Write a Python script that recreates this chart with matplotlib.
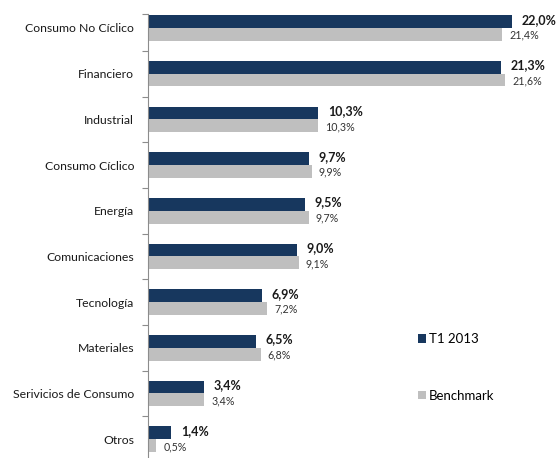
import matplotlib
matplotlib.use("Agg")
import matplotlib.pyplot as plt
import numpy as np

categories = ["Consumo No Cíclico", "Financiero", "Industrial", "Consumo Cíclico",
              "Energía", "Comunicaciones", "Tecnología", "Materiales",
              "Serivicios de Consumo", "Otros"]
t1_2013 = [22.0, 21.3, 10.3, 9.7, 9.5, 9.0, 6.9, 6.5, 3.4, 1.4]
benchmark = [21.4, 21.6, 10.3, 9.9, 9.7, 9.1, 7.2, 6.8, 3.4, 0.5]

NAVY = "#17375E"
GRAY = "#BFBFBF"

plt.rcParams['font.family'] = ['Lato', 'DejaVu Sans']

W, H = 560, 458
fig = plt.figure(figsize=(W / 100, H / 100), dpi=100)

# axes placed in pixel terms: left spine at x=148, top at y=14
y_top, y_bot = -0.306, 9.5
ax_top_px, ax_bot_px = 14, 462
ax = fig.add_axes([148 / W, (H - ax_bot_px) / H, 400 / W, (ax_bot_px - ax_top_px) / H])

y = np.arange(len(categories))
h = 0.28
ax.barh(y - h / 2, t1_2013, height=h, color=NAVY, label="T1 2013")
ax.barh(y + h / 2, benchmark, height=h, color=GRAY, label="Benchmark")

for yi, a, b in zip(y, t1_2013, benchmark):
    ax.annotate(f"{a:.1f}%".replace(".", ","), (a, yi - h / 2 - 0.04),
                xytext=(7, 0), textcoords="offset points", va="center",
                ha="left", fontsize=9, fontweight="bold", color="#1a1a1a")
    ax.annotate(f"{b:.1f}%".replace(".", ","), (b, yi + h / 2 + 0.02),
                xytext=(5, 0), textcoords="offset points", va="center",
                ha="left", fontsize=7.7, color="#333333")

ax.set_xlim(0, 400 / 16.55)
ax.set_ylim(y_bot, y_top)

ax.set_yticks(y)
ax.set_yticklabels(categories, fontsize=8.8, color="#1a1a1a")
ax.tick_params(axis="y", which="major", length=0, pad=10)
ax.set_yticks(list(np.arange(len(categories)) + 0.5) + [y_top], minor=True)
ax.tick_params(axis="y", which="minor", length=4, color="#8c8c8c", width=0.8)
ax.set_xticks([])

for s in ["top", "right", "bottom"]:
    ax.spines[s].set_visible(False)
ax.spines["left"].set_color("#8c8c8c")
ax.spines["left"].set_linewidth(0.8)

fig.legend(loc="upper left", bbox_to_anchor=(418 / W, 1 - 333 / H),
           frameon=False, fontsize=9.5, handlelength=0.6, handleheight=0.6,
           handletextpad=0.25, labelspacing=3.4, borderpad=0, borderaxespad=0)

fig.savefig("out.png", dpi=100)
